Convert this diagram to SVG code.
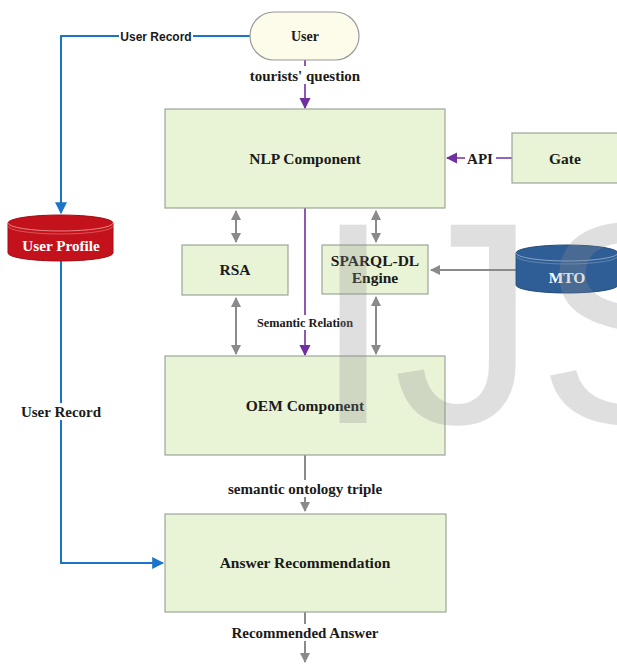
<svg xmlns="http://www.w3.org/2000/svg" width="617" height="664" viewBox="0 0 617 664">
<defs>
<style>
.box{fill:#e9f3d6;stroke:#9aa79a;stroke-width:1.2}
.t{font-family:"Liberation Serif","Times New Roman",serif;font-weight:bold;font-size:15.5px;fill:#1a1a1a;text-anchor:middle}
.lbl{font-family:"Liberation Serif","Times New Roman",serif;font-weight:bold;font-size:15px;fill:#1a1a1a;text-anchor:middle}
.gray{stroke:#8a8a8a;stroke-width:2;fill:none}
.purple{stroke:#7030a0;stroke-width:1.6;fill:none}
.blue{stroke:#1a75c8;stroke-width:2;fill:none}
</style>
<marker id="ag" viewBox="0 0 10 10" refX="9" refY="5" markerWidth="5" markerHeight="5" orient="auto-start-reverse" markerUnits="strokeWidth"><path d="M0,0L10,5L0,10Z" fill="#8a8a8a"/></marker>
<marker id="ap" viewBox="0 0 10 10" refX="9" refY="5" markerWidth="7" markerHeight="7" orient="auto" markerUnits="strokeWidth"><path d="M0,0L10,5L0,10Z" fill="#7030a0"/></marker>
<marker id="ab" viewBox="0 0 10 10" refX="9" refY="5" markerWidth="6" markerHeight="6" orient="auto" markerUnits="strokeWidth"><path d="M0,0L10,5L0,10Z" fill="#1a75c8"/></marker>
</defs>
<rect width="617" height="664" fill="#ffffff"/>

<g id="connectors">
<polyline class="blue" points="250,36 61,36 61,213" marker-end="url(#ab)"/>
<polyline class="blue" points="61,261 61,563 163,563" marker-end="url(#ab)"/>
<line class="purple" x1="305" y1="60" x2="305" y2="108" marker-end="url(#ap)"/>
<line class="purple" x1="512" y1="158" x2="447" y2="158" marker-end="url(#ap)"/>
<line class="purple" x1="305" y1="208" x2="305" y2="355" marker-end="url(#ap)"/>
<line class="gray" x1="236" y1="211" x2="236" y2="242" marker-start="url(#ag)" marker-end="url(#ag)"/>
<line class="gray" x1="236" y1="298" x2="236" y2="354" marker-start="url(#ag)" marker-end="url(#ag)"/>
<line class="gray" x1="376" y1="211" x2="376" y2="242" marker-start="url(#ag)" marker-end="url(#ag)"/>
<line class="gray" x1="376" y1="297" x2="376" y2="354" marker-start="url(#ag)" marker-end="url(#ag)"/>
<line class="gray" x1="516" y1="270" x2="431" y2="270" marker-end="url(#ag)"/>
<line class="gray" x1="305" y1="455" x2="305" y2="511" marker-end="url(#ag)"/>
<line class="gray" x1="305" y1="612" x2="305" y2="662" marker-end="url(#ag)"/>
<rect x="119" y="29" width="74" height="14" fill="#ffffff"/>
<text x="156" y="40.5" font-family="'Liberation Sans',Arial,sans-serif" font-weight="bold" font-size="12" fill="#1a1a1a" text-anchor="middle">User Record</text>
<rect x="246" y="66" width="118" height="18" fill="#ffffff"/>
<text class="lbl" x="305" y="80.5">tourists' question</text>
<rect x="465" y="150" width="31" height="16" fill="#ffffff"/>
<text class="lbl" x="480" y="163.5">API</text>
<rect x="252" y="315" width="106" height="15" fill="#ffffff"/>
<text class="lbl" x="305" y="327" style="font-size:12.3px">Semantic Relation</text>
<rect x="17" y="403" width="88" height="17" fill="#ffffff"/>
<text class="lbl" x="61" y="417">User Record</text>
<rect x="222" y="480" width="166" height="17" fill="#ffffff"/>
<text class="lbl" x="305" y="494">semantic ontology triple</text>
<rect x="226" y="624" width="158" height="17" fill="#ffffff"/>
<text class="lbl" x="305" y="638">Recommended Answer</text>
</g>

<g id="user">
<rect x="250" y="12" width="109" height="48" rx="24" ry="24" fill="#fdfbea" stroke="#9a9a9a" stroke-width="1.2"/>
<text class="t" x="305" y="41" style="font-size:14px">User</text>
</g>
<g id="nlp">
<rect class="box" x="165" y="109" width="280" height="99"/>
<text class="t" x="305" y="164">NLP Component</text>
</g>
<g id="gate">
<rect class="box" x="512" y="133" width="107" height="50"/>
<text class="t" x="565" y="164">Gate</text>
</g>
<g id="rsa">
<rect class="box" x="182" y="245" width="106" height="50"/>
<text class="t" x="235" y="275">RSA</text>
</g>
<g id="sparql">
<rect class="box" x="322" y="245" width="106" height="49"/>
<text class="t" x="375" y="266">SPARQL-DL</text>
<text class="t" x="375" y="283">Engine</text>
</g>
<g id="oem">
<rect class="box" x="165" y="356" width="280" height="99"/>
<text class="t" x="305" y="411">OEM Component</text>
</g>
<g id="answer">
<rect class="box" x="165" y="514" width="281" height="98"/>
<text class="t" x="305" y="568">Answer Recommendation</text>
</g>
<g id="userprofile">
<path d="M8,223 A52.5,8 0 0 1 113,223 V253 A52.5,8 0 0 1 8,253 Z" fill="#c4121c" stroke="#a00c14" stroke-width="1"/>
<path d="M8,223 A52.5,8 0 0 0 113,223" fill="none" stroke="#f0a0a0" stroke-width="0.8"/>
<path d="M8,226 A52.5,8 0 0 0 113,226" fill="none" stroke="#e88080" stroke-width="0.6"/>
<text x="61" y="251" font-family="'Liberation Serif','Times New Roman',serif" font-weight="bold" font-size="15.2" fill="#ffffff" text-anchor="middle">User Profile</text>
</g>
<g id="mto">
<path d="M516,253 A51,8 0 0 1 618,253 V285 A51,8 0 0 1 516,285 Z" fill="#2f5e96" stroke="#244c7a" stroke-width="1"/>
<path d="M516,253 A51,8 0 0 0 618,253" fill="none" stroke="#9ab4d4" stroke-width="0.8"/>
<path d="M516,256 A51,8 0 0 0 618,256" fill="none" stroke="#7f9cc0" stroke-width="0.6"/>
<text x="567" y="283" font-family="'Liberation Serif','Times New Roman',serif" font-weight="bold" font-size="15.5" fill="#ffffff" text-anchor="middle">MTO</text>
</g>

<text x="313" y="423" font-family="'Liberation Sans',Arial,sans-serif" font-size="288" fill="#8c8c8c" fill-opacity="0.28">IJS</text>
</svg>
